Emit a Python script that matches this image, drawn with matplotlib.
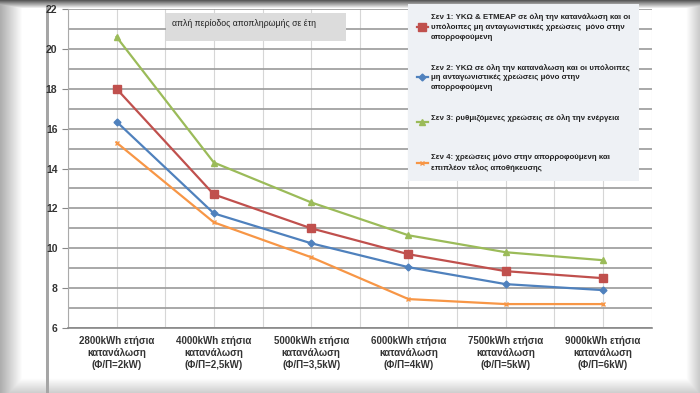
import matplotlib.pyplot as plt
import matplotlib.patches as mpatches
import numpy as np

plt.rcParams["font.family"] = ["Liberation Sans", "DejaVu Sans"]

categories = [
    "2800kWh ετήσια\nκατανάλωση\n(Φ/Π=2kW)",
    "4000kWh ετήσια\nκατανάλωση\n(Φ/Π=2,5kW)",
    "5000kWh ετήσια\nκατανάλωση\n(Φ/Π=3,5kW)",
    "6000kWh ετήσια\nκατανάλωση\n(Φ/Π=4kW)",
    "7500kWh ετήσια\nκατανάλωση\n(Φ/Π=5kW)",
    "9000kWh ετήσια\nκατανάλωση\n(Φ/Π=6kW)",
]
sen1 = [18.0, 12.7, 11.0, 9.7, 8.85, 8.5]
sen2 = [16.35, 11.75, 10.25, 9.05, 8.2, 7.9]
sen3 = [20.6, 14.3, 12.3, 10.65, 9.8, 9.4]
sen4 = [15.3, 11.3, 9.55, 7.45, 7.2, 7.2]

labels = [
    "Σεν 1: ΥΚΩ & ΕΤΜΕΑΡ σε όλη την κατανάλωση και οι\nυπόλοιπες μη ανταγωνιστικές χρεώσεις  μόνο στην\nαπορροφούμενη",
    "Σεν 2: ΥΚΩ σε όλη την κατανάλωση και οι υπόλοιπες\nμη ανταγωνιστικές χρεώσεις μόνο στην\nαπορροφούμενη",
    "Σεν 3: ρυθμιζόμενες χρεώσεις σε όλη την ενέργεια\n ",
    "Σεν 4: χρεώσεις μόνο στην απορροφούμενη και\nεπιπλέον τέλος αποθήκευσης",
]
box_title = "απλή περίοδος αποπληρωμής σε έτη"

fig = plt.figure(figsize=(7, 3.93), dpi=100)

# photo-like frame around the chart
H, W = 393, 700
bg = np.ones((H, W))
xs = np.arange(W)
ys = np.arange(H)
bg = np.minimum(bg, (0.68 + 0.32 * np.clip(xs / 22, 0, 1))[None, :])
bg = np.minimum(bg, (1 - 0.22 * np.clip((xs - 686) / 14, 0, 1))[None, :])
bg = np.minimum(bg, (0.35 + 0.65 * np.clip(ys / 8, 0, 1))[:, None])
bg = np.minimum(bg, (1 - 0.2 * np.clip((ys - 378) / 15, 0, 1))[:, None])
bg[:, 46:49] = np.minimum(bg[:, 46:49], 0.65)
bg_ax = fig.add_axes([0, 0, 1, 1], zorder=-5)
bg_ax.imshow(bg, cmap="gray", vmin=0, vmax=1, aspect="auto")
bg_ax.axis("off")

ax = fig.add_axes([0.097, 0.1654, 0.834, 0.8116])
ax.patch.set_alpha(0)
x = np.arange(len(categories))

ax.plot(x, sen1, color="#C0504D", marker="s", markersize=5.5, lw=1.6, label=labels[0])
ax.plot(x, sen2, color="#4F81BD", marker="D", markersize=3.5, lw=1.6, label=labels[1])
ax.plot(x, sen3, color="#9BBB59", marker="^", markersize=5, lw=1.6, label=labels[2])
ax.plot(x, sen4, color="#F79646", marker="x", markersize=3.5, lw=1.6, label=labels[3])

ax.set_xlim(-0.5, 5.5)
ax.set_ylim(6, 22)
ax.set_yticks(np.arange(6, 23, 2))
ax.set_yticks(np.arange(7, 23, 2), minor=True)
ax.set_xticks(x)
ax.set_xticklabels(categories, fontsize=7, fontweight="bold", color="#333333")
ax.set_xticks(np.arange(-0.5, 5.6, 1.0), minor=True)
ax.tick_params(axis="y", which="major", labelsize=7.5, labelcolor="#333333", length=4, color="#888888")
ax.tick_params(axis="y", which="minor", length=0)
ax.tick_params(axis="x", which="both", length=0, pad=6)
for t in ax.get_yticklabels():
    t.set_fontweight("bold")

ax.grid(axis="y", which="both", color="#9a9a9a", lw=1.2)
ax.grid(axis="x", which="both", color="#d6d6d6", lw=0.8)
ax.set_axisbelow(True)
for s in ["top", "right"]:
    ax.spines[s].set_visible(False)
ax.spines["left"].set_color("#aaaaaa")
ax.spines["bottom"].set_color("#888888")
ax.spines["bottom"].set_linewidth(1.2)

ax.add_patch(mpatches.Rectangle((0.168, 0.90), 0.308, 0.087, transform=ax.transAxes,
                                facecolor="#dcdcdc", edgecolor="none", zorder=4))
ax.text(0.178, 0.955, box_title, transform=ax.transAxes, fontsize=6.3, color="#222222",
        va="center", ha="left", zorder=5)

leg = ax.legend(loc="upper left", bbox_to_anchor=(0.576, 1.028), fontsize=5.7,
                frameon=True, facecolor="#eef1f5", edgecolor="none", framealpha=1,
                labelspacing=2.9, handlelength=1.4, handletextpad=0.35,
                borderpad=1.1, fancybox=False)
for t in leg.get_texts():
    t.set_color("#222222")
    t.set_fontweight("bold")
    t.set_linespacing(1.5)
leg.set_zorder(5)

fig.savefig("out.png", dpi=100)
